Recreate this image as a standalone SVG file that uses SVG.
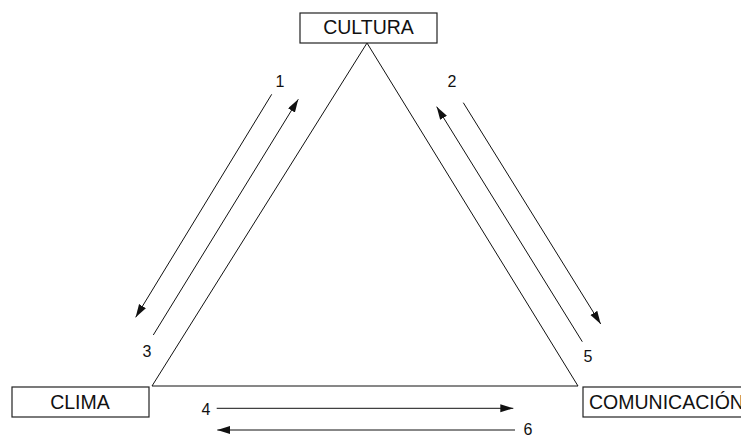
<svg xmlns="http://www.w3.org/2000/svg" width="741" height="436" viewBox="0 0 741 436">
<style>
.box{fill:#fff;stroke:#222;stroke-width:1.2}
.lbl{font-family:"Liberation Sans",Arial,sans-serif;font-size:19.5px;fill:#111}
.num{font-family:"Liberation Sans",Arial,sans-serif;font-size:16px;fill:#111}
.ln{stroke:#111;stroke-width:1;fill:none}
.ar{stroke:#111;stroke-width:1;fill:none;marker-end:url(#ah)}
</style>
<defs>
<marker id="ah" markerUnits="userSpaceOnUse" markerWidth="14" markerHeight="10" refX="13" refY="4" orient="auto">
<path d="M0,0 L13,4 L0,8 z" fill="#111"/>
</marker>
</defs>
<rect width="741" height="436" fill="#fff"/>
<g id="connectors">
<path class="ln" d="M367,43 L152,386 L578,386 Z"/>
<line class="ar" x1="271.7" y1="94.3" x2="135.7" y2="317.3"/>
<line class="ar" x1="153.3" y1="335" x2="298.3" y2="99.3"/>
<line class="ar" x1="463.3" y1="102.7" x2="600.7" y2="324"/>
<line class="ar" x1="582.3" y1="341.7" x2="436.7" y2="106.7"/>
<line class="ar" x1="216.7" y1="408.3" x2="513.3" y2="408.3"/>
<line class="ar" x1="515" y1="430" x2="217.3" y2="430"/>
<text class="num" x="280" y="87" text-anchor="middle">1</text>
<text class="num" x="452" y="87" text-anchor="middle">2</text>
<text class="num" x="147" y="357" text-anchor="middle">3</text>
<text class="num" x="588" y="362" text-anchor="middle">5</text>
<text class="num" x="206" y="415" text-anchor="middle">4</text>
<text class="num" x="528" y="435" text-anchor="middle">6</text>
</g>
<g id="cultura">
<rect class="box" x="300" y="13" width="137" height="30"/>
<text class="lbl" x="368.5" y="34" text-anchor="middle">CULTURA</text>
</g>
<g id="clima">
<rect class="box" x="12" y="387" width="137" height="30"/>
<text class="lbl" x="80" y="408.5" text-anchor="middle">CLIMA</text>
</g>
<g id="comunicacion">
<rect class="box" x="583" y="387" width="175" height="30"/>
<text class="lbl" x="589" y="408.5">COMUNICACIÓN</text>
</g>
</svg>
